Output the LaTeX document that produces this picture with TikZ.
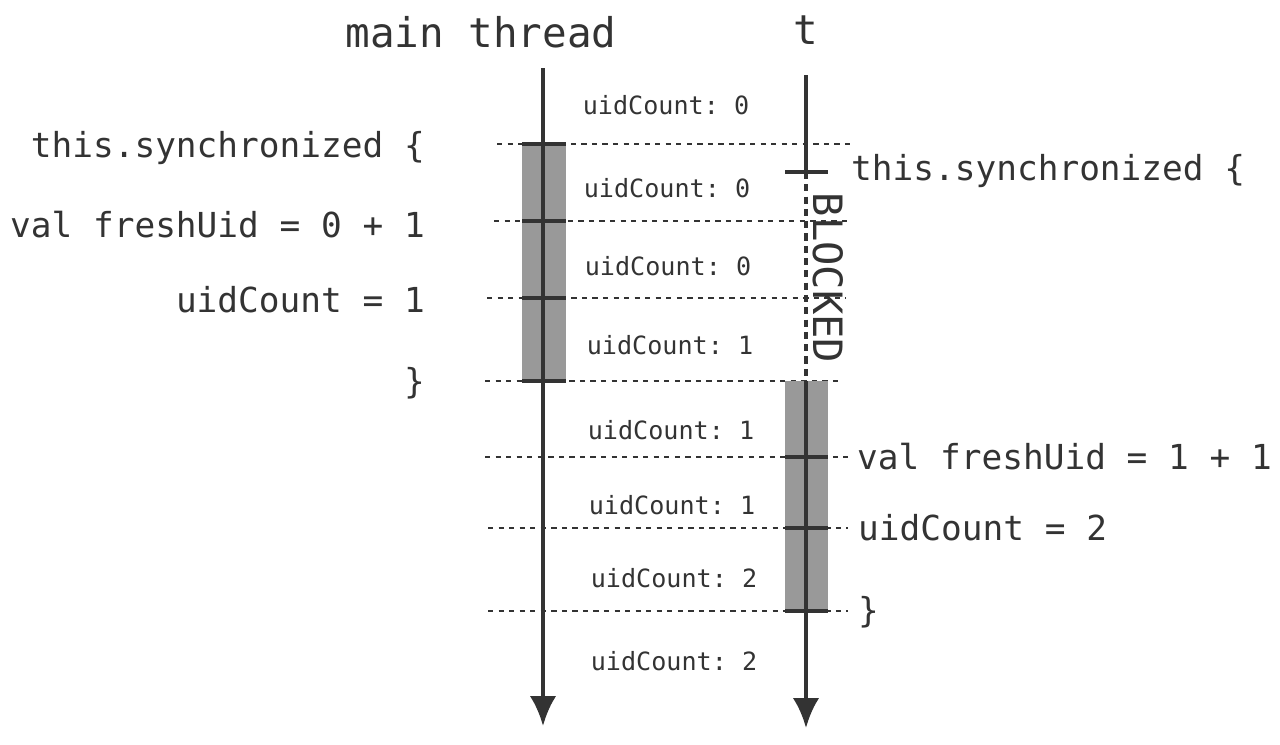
\documentclass[tikz,border=0pt]{standalone}
\usepackage{fontspec}
\setmonofont{DejaVu Sans Mono}
\usetikzlibrary{arrows.meta}
\definecolor{ink}{HTML}{333333}
\definecolor{busy}{HTML}{999999}

\begin{document}
\begin{tikzpicture}[x=0.02cm, y=-0.02cm,
        thread/.style={draw=ink, line width=2.3pt},
        waiting/.style={draw=ink, line width=2.3pt, dash pattern=on 4pt off 3pt},
        cut/.style={draw=ink, line width=1.1pt, dash pattern=on 3pt off 3pt},
        busybar/.style={fill=busy, draw=none},
        tip/.style={-{Latex[length=17pt, width=15pt]}}]
        \useasboundingbox (0,0) rectangle (1280,744);

        \begin{scope}[every node/.style={text=ink, font=\ttfamily\fontsize{23.3}{27}\selectfont}]
            \node (mainlbl) at (481,32) {main thread};
            \node (tlbl) at (806,30) {t};
        \end{scope}

        % time cuts
        \draw[cut] (497,144) -- (855,144);
        \draw[cut] (494,221) -- (852,221);
        \draw[cut] (487,298) -- (846,298);
        \draw[cut] (485,381) -- (843,381);
        \draw[cut] (485,457) -- (848,457);
        \draw[cut] (488,528) -- (848,528);
        \draw[cut] (488,611) -- (848,611);

        % synchronized blocks
        \fill[busybar] (522,144) rectangle (566,381);
        \fill[busybar] (785,381) rectangle (828,611);

        \coordinate (mtop) at (543,68);
        \coordinate (mend) at (543,726);
        \coordinate (ttop) at (806,75);
        \coordinate (tlock) at (806,172);
        \coordinate (tgo) at (806,381);
        \coordinate (tend) at (806,728);

        \draw[thread, tip] (mtop) -- (mend);
        \draw[thread] (ttop) -- (tlock);
        \draw[waiting] (tlock) -- (tgo);
        \draw[thread, tip] (tgo) -- (tend);

        \foreach \y in {144,221,298,381}
            \draw[thread] (522,\y) -- (566,\y);
        \foreach \y in {172}
            \draw[thread] (785,\y) -- (828,\y);
        \foreach \y in {457,528,611}
            \draw[thread] (785,\y) -- (828,\y);

        \node (blocked) [rotate=-90, text=ink, font=\ttfamily\fontsize{23}{27}\selectfont] at (828,278) {BLOCKED};

        \begin{scope}[every node/.style={text=ink, font=\ttfamily\fontsize{19.6}{23}\selectfont}]
            \node (msync) [anchor=east] at (431,148) {this.synchronized \{};
            \node (mfresh) [anchor=east] at (431,225) {val freshUid = 0 + 1};
            \node (mcount) [anchor=east] at (431,300) {uidCount = 1};
            \node (mclose) [anchor=east] at (431,383) {\}};
            \node (tsync) [anchor=west] at (845,171) {this.synchronized \{};
            \node (tfresh) [anchor=west] at (851,457) {val freshUid = 1 + 1};
            \node (tcount) [anchor=west] at (852,528) {uidCount = 2};
            \node (tclose) [anchor=west] at (852,612) {\}};
        \end{scope}

        \begin{scope}[every node/.style={text=ink, font=\ttfamily\fontsize{14.3}{17}\selectfont}]
            \node (s0) at (666,105) {uidCount: 0};
            \node (s1) at (667,188) {uidCount: 0};
            \node (s2) at (668,266) {uidCount: 0};
            \node (s3) at (670,345) {uidCount: 1};
            \node (s4) at (671,430) {uidCount: 1};
            \node (s5) at (672,505) {uidCount: 1};
            \node (s6) at (674,578) {uidCount: 2};
            \node (s7) at (674,661) {uidCount: 2};
        \end{scope}
    \end{tikzpicture}
\end{document}
